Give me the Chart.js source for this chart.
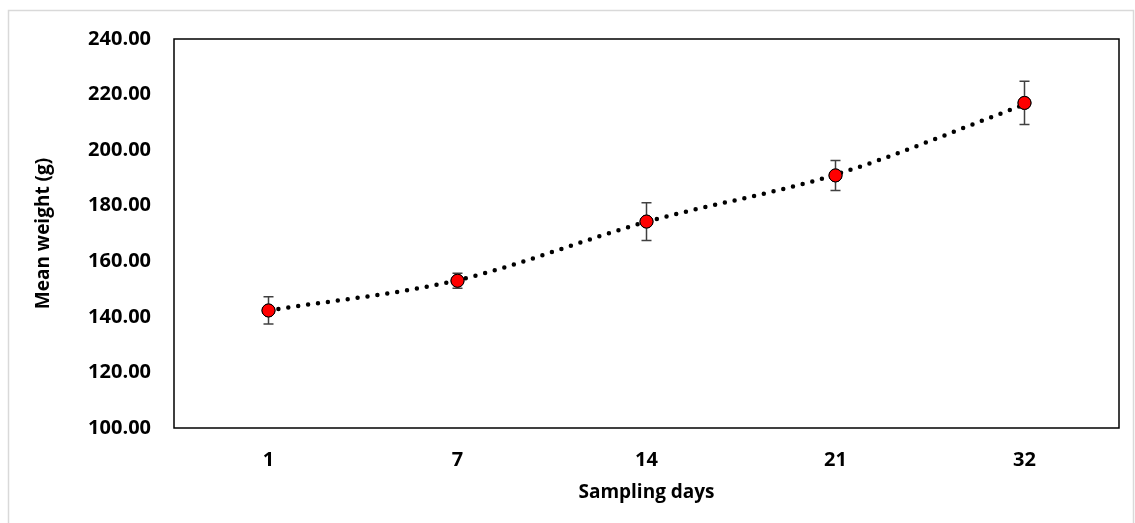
<!DOCTYPE html>
<html lang="en">
<head>
<meta charset="UTF-8">
<title>Mean weight</title>
<script src="https://cdn.jsdelivr.net/npm/chart.js@4.4.1/dist/chart.umd.min.js"></script>
<style>
  html, body { margin: 0; padding: 0; background: #fff; }
  #wrap { position: relative; width: 1135px; height: 523px; }
</style>
</head>
<body>
<div id="wrap"><canvas id="myChart"></canvas></div>
<script>
// data
var days = ['1', '7', '14', '21', '32'];
var meanWeight = [142.3, 153.0, 174.3, 190.9, 217.0];
var errWeight = [4.9, 2.7, 6.8, 5.4, 7.8];
// dotted trendline, values read at each category
var trendWeight = [142.3, 153.2, 174.2, 191.2, 216.4];
var yTicks = [100, 120, 140, 160, 180, 200, 220, 240];

var fontFam = '"Open Sans", Lato, sans-serif';

// grey frame round the whole chart + black box round the plot
var framePlugin = {
    id: 'frame',
    beforeDraw: function (chart) {
        var ctx = chart.ctx;
        ctx.save();
        ctx.strokeStyle = '#d9d9d9';
        ctx.lineWidth = 1.5;
        ctx.strokeRect(8.5, 10.5, 1125, 530);
        ctx.restore();
    },
    afterDraw: function (chart) {
        var a = chart.chartArea, ctx = chart.ctx;
        ctx.save();
        ctx.strokeStyle = '#000';
        ctx.lineWidth = 1.5;
        ctx.strokeRect(a.left, a.top, a.right - a.left, a.bottom - a.top);
        ctx.restore();
    }
};

// error bars drawn through the scales
var errorBarPlugin = {
    id: 'errorBars',
    afterDatasetsDraw: function (chart) {
        var ctx = chart.ctx;
        var xs = chart.scales.x, ys = chart.scales.y;
        ctx.save();
        ctx.strokeStyle = '#404040';
        ctx.lineWidth = 1.5;
        for (var i = 0; i < meanWeight.length; i++) {
            var x = xs.getPixelForValue(i);
            var yTop = ys.getPixelForValue(meanWeight[i] + errWeight[i]);
            var yBot = ys.getPixelForValue(meanWeight[i] - errWeight[i]);
            ctx.beginPath();
            ctx.moveTo(x, yTop); ctx.lineTo(x, yBot);
            ctx.moveTo(x - 5, yTop); ctx.lineTo(x + 5, yTop);
            ctx.moveTo(x - 5, yBot); ctx.lineTo(x + 5, yBot);
            ctx.stroke();
        }
        ctx.restore();
        // redraw markers on top of the bars
        chart.getDatasetMeta(1).controller.draw();
    }
};

var ctx = document.getElementById('myChart');
var myChart = new Chart(ctx, {
    type: 'line',
    data: {
        labels: days,
        datasets: [
            {
                label: 'Trend',
                data: trendWeight,
                borderColor: '#000',
                borderWidth: 4.5,
                borderDash: [0, 10],
                borderCapStyle: 'round',
                cubicInterpolationMode: 'monotone',
                pointRadius: 0,
                fill: false
            },
            {
                label: 'Mean weight',
                data: meanWeight,
                showLine: false,
                pointRadius: 6.5,
                pointBackgroundColor: '#ff0000',
                pointBorderColor: '#000',
                pointBorderWidth: 1
            }
        ]
    },
    options: {
        responsive: true,
        maintainAspectRatio: false,
        animation: false,
        layout: { padding: { top: 39, right: 16, left: 0, bottom: 0 } },
        plugins: {
            legend: { display: false },
            tooltip: { enabled: false }
        },
        scales: {
            x: {
                offset: true,
                grid: { display: false, drawTicks: false },
                border: { display: false },
                ticks: {
                    color: '#000',
                    padding: 20,
                    font: { family: fontFam, size: 20, weight: 'bold' }
                },
                title: {
                    display: true,
                    text: 'Sampling days',
                    color: '#000',
                    padding: { top: 0, bottom: 19 },
                    font: { family: fontFam, size: 19, weight: 'bold' }
                },
                afterFit: function (scale) { scale.height = 95; }
            },
            y: {
                min: 100,
                max: 240,
                grid: { display: false, drawTicks: false },
                border: { display: false },
                afterBuildTicks: function (scale) {
                    scale.ticks = yTicks.map(function (v) { return { value: v }; });
                },
                ticks: {
                    color: '#000',
                    padding: 23,
                    font: { family: fontFam, size: 20, weight: 'bold' },
                    callback: function (v) { return Number(v).toFixed(2); }
                },
                title: {
                    display: true,
                    text: 'Mean weight (g)',
                    color: '#000',
                    padding: { top: 32, bottom: 0 },
                    font: { family: fontFam, size: 19, weight: 'bold' }
                },
                afterFit: function (scale) { scale.width = 174; }
            }
        }
    },
    plugins: [framePlugin, errorBarPlugin]
});
</script>
</body>
</html>
